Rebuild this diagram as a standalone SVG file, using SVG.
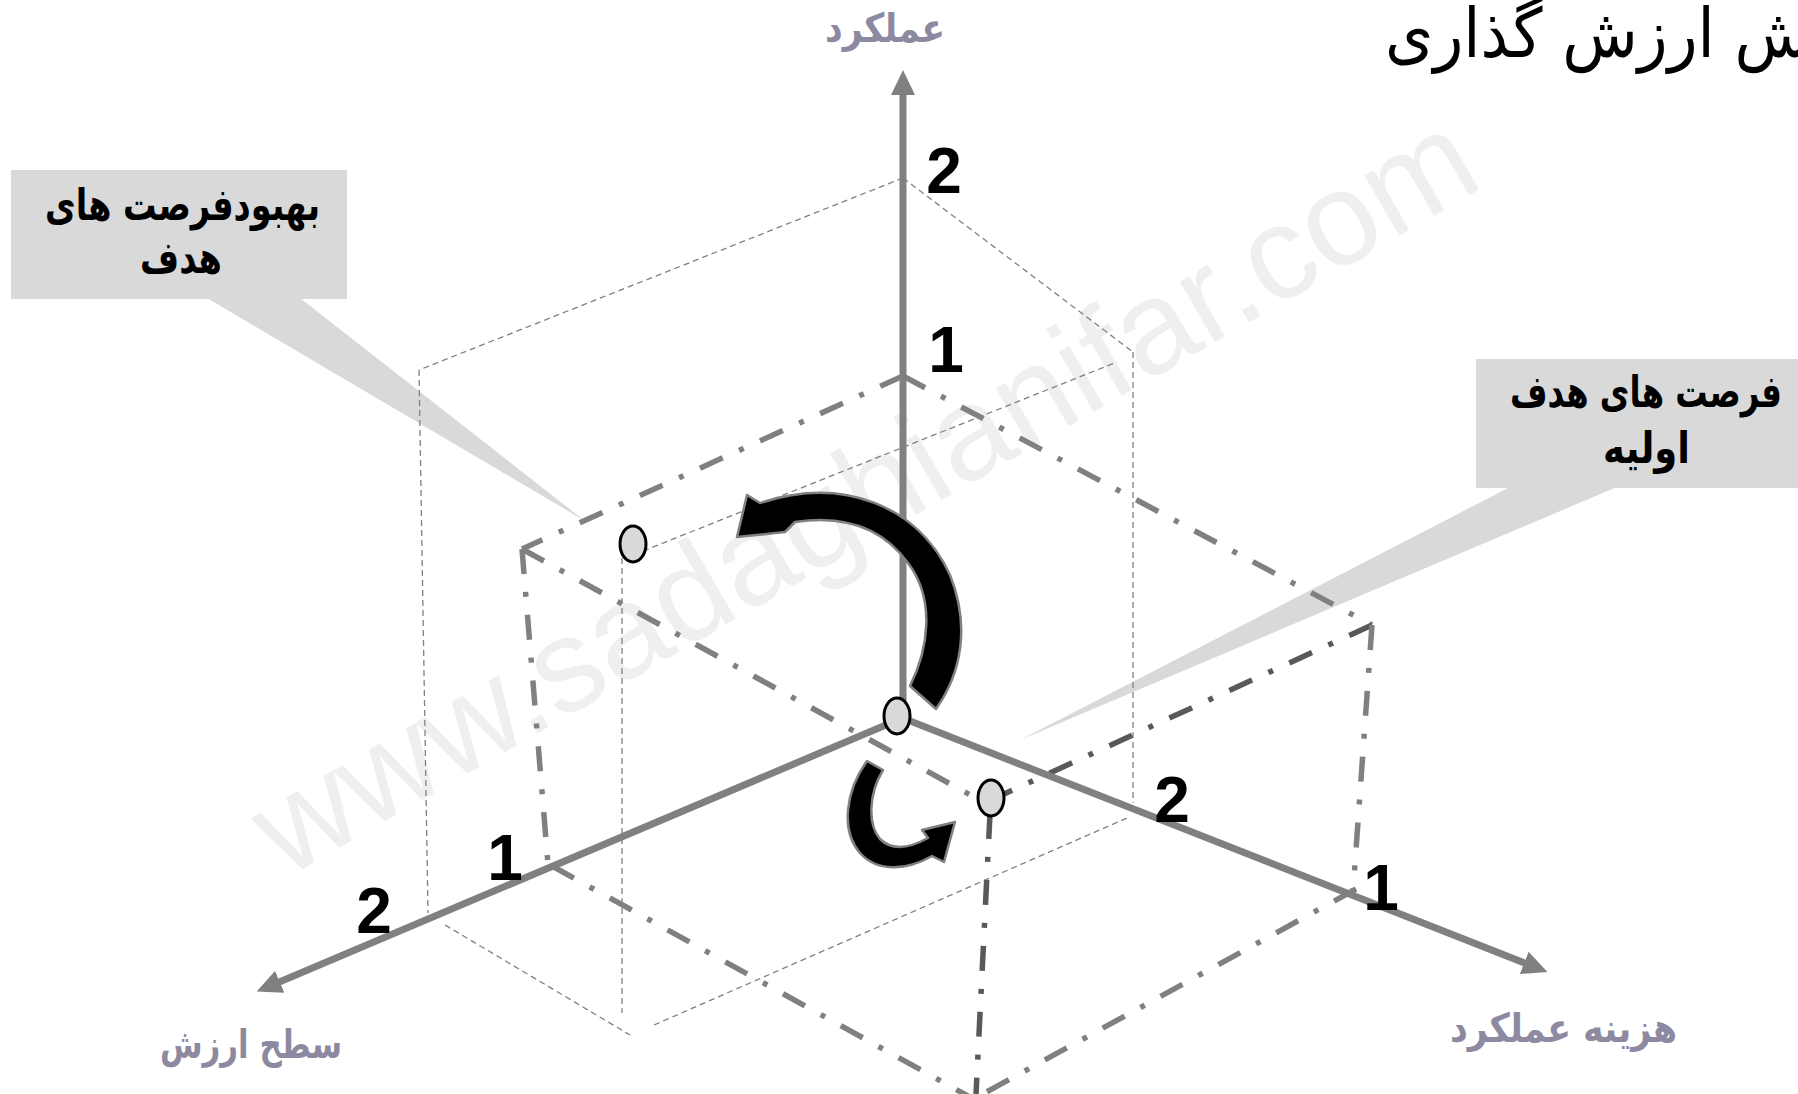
<svg xmlns="http://www.w3.org/2000/svg" width="1798" height="1094" viewBox="0 0 1798 1094">
<defs>
<style>
.thin{fill:none;stroke:#808080;stroke-width:1.3;stroke-dasharray:6 4}
.dd{fill:none;stroke:#808080;stroke-width:5.5;stroke-dasharray:25 18 5 18}
.ddk{stroke:#595959}
.axis{fill:none;stroke:#808080;stroke-width:7}
.num{font-family:'Liberation Sans',Arial,sans-serif;font-weight:bold;font-size:64px;fill:#000;text-anchor:middle}
.lab{font-family:'DejaVu Sans',sans-serif;font-weight:bold;font-size:40px;fill:#8c89a0}
.box{fill:#d9d9d9}
.boxt{font-family:'DejaVu Sans',sans-serif;font-weight:bold;font-size:44px;fill:#000}
.pt{fill:#d9d9d9;stroke:#000;stroke-width:3}
.arr{fill:#000;stroke:#808080;stroke-width:2.5;stroke-linejoin:round}
</style>
<marker id="ah" viewBox="0 0 25 24" markerWidth="25" markerHeight="24" refX="3" refY="12" orient="auto" markerUnits="userSpaceOnUse"><path d="M0,0 L25,12 L0,24 z" fill="#808080"/></marker>
</defs>
<rect width="1798" height="1094" fill="#fff"/>
<text id="watermark" x="886" y="532" transform="rotate(-30 886 532)" font-family="'Liberation Sans',Arial,sans-serif" font-size="132" fill="#efefef" text-anchor="middle">www.sadaghianifar.com</text>
<text id="title" x="1385" y="57" font-family="'DejaVu Sans',sans-serif" font-size="68" fill="#000" textLength="425" lengthAdjust="spacingAndGlyphs">ش ارزش گذاری</text>
<g id="callout-improve">
<rect class="box" x="11" y="170" width="336" height="129"/>
<polygon class="box" points="207,298 300,298 585,521"/>
<text class="boxt" x="45" y="220" textLength="275" lengthAdjust="spacingAndGlyphs">بهبودفرصت های</text>
<text class="boxt" x="140" y="273" textLength="82" lengthAdjust="spacingAndGlyphs">هدف</text>
</g>
<g id="callout-initial">
<rect class="box" x="1476" y="359" width="322" height="129"/>
<polygon class="box" points="1510,487 1617,487 1020,740"/>
<text class="boxt" x="1782" y="407" text-anchor="end" textLength="272" lengthAdjust="spacingAndGlyphs">فرصت های هدف</text>
<text class="boxt" x="1690" y="463" text-anchor="end" textLength="87" lengthAdjust="spacingAndGlyphs">اولیه</text>
</g>
<g id="connectors">
<g id="thin-cube">
<path class="thin" d="M903,178 L419,370"/>
<path class="thin" d="M903,178 L1133,352"/>
<path class="thin" d="M419,370 L428,913"/>
<path class="thin" d="M1133,352 L1133,803"/>
<path class="thin" d="M643,551 L1117,362"/>
<path class="thin" d="M622,558 L622,1013"/>
<path class="thin" d="M445,925 L630,1035"/>
<path class="thin" d="M654,1025 L1127,818"/>
</g>
<g id="dashdot-cube">
<path class="dd" d="M903,376 L522,549"/>
<path class="dd" d="M903,376 L1372,625"/>
<path class="dd" d="M522,549 L985,803"/>
<path class="dd" d="M522,549 L548,864"/>
<path class="dd ddk" d="M1372,625 L1002,795"/>
<path class="dd" d="M1372,625 L1353,892"/>
<path class="dd ddk" d="M990,814 L976,1094"/>
<path class="dd" d="M552,866 L968,1096"/>
<path class="dd" d="M1356,889 L972,1100"/>
</g>
<g id="axes">
<path class="axis" d="M903,718 L903,92" marker-end="url(#ah)"/>
<path class="axis" d="M900,719 L277,983" marker-end="url(#ah)"/>
<path class="axis" d="M900,717 L1527,964" marker-end="url(#ah)"/>
</g>
<g id="move-arrows">
<path class="arr" d="M910,686 C928,650 936,600 908,563 C884,530 848,514 795,522 L785,532 L737,537 L747,495 L760,503 C842,476 918,505 950,575 C970,625 962,672 936,709 Z"/>
<path class="arr" d="M867,761 C846,790 840,830 860,853 C877,872 906,871 932,856 L944,862 L955,822 L922,830 L928,838 C908,849 891,850 880,839 C868,825 868,795 883,770 Z"/>
</g>
</g>
<g id="point-origin"><ellipse class="pt" cx="897" cy="716" rx="13" ry="18"/></g>
<g id="point-improved"><ellipse class="pt" cx="633" cy="544" rx="13" ry="18"/></g>
<g id="point-cost"><ellipse class="pt" cx="991" cy="798" rx="13" ry="18"/></g>
<g id="ticks">
<text class="num" x="944" y="193">2</text>
<text class="num" x="946" y="372">1</text>
<text class="num" x="505" y="880">1</text>
<text class="num" x="374" y="933">2</text>
<text class="num" x="1172" y="822">2</text>
<text class="num" x="1381" y="910">1</text>
</g>
<g id="axis-labels">
<text class="lab" x="825" y="42" textLength="120" lengthAdjust="spacingAndGlyphs">عملکرد</text>
<text class="lab" x="160" y="1058" textLength="182" lengthAdjust="spacingAndGlyphs">سطح ارزش</text>
<text class="lab" x="1450" y="1042" textLength="227" lengthAdjust="spacingAndGlyphs">هزینه عملکرد</text>
</g>
</svg>
